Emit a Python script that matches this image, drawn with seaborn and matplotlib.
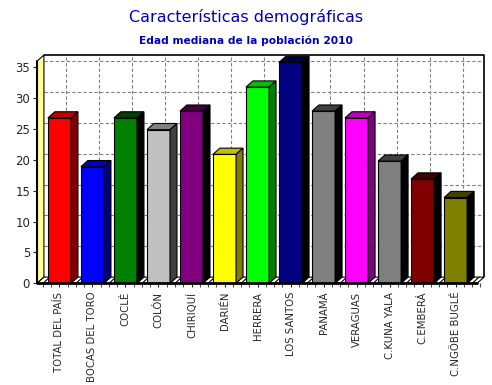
import matplotlib
matplotlib.use('Agg')
import matplotlib.pyplot as plt
import numpy as np
import pandas as pd
import seaborn as sns
from matplotlib.patches import Polygon

# data
provincias = ['TOTAL DEL PAÍS', 'BOCAS DEL TORO', 'COCLÉ', 'COLÓN', 'CHIRIQUÍ', 'DARIÉN',
              'HERRERA', 'LOS SANTOS', 'PANAMÁ', 'VERAGUAS', 'C.KUNA YALA', 'C.EMBERÁ',
              'C.NGÖBE BUGLÉ']
edad_mediana = [26.8, 18.9, 26.8, 24.9, 27.9, 20.9, 31.8, 35.8, 27.9, 26.8, 19.8, 16.9, 13.9]
colores = ['#FF0000', '#0000FF', '#008000', '#C0C0C0', '#800080', '#FFFF00', '#00FF00',
           '#000080', '#808080', '#FF00FF', '#808080', '#800000', '#808000']

df = pd.DataFrame({'provincia': provincias, 'edad': edad_mediana})

sns.set_style('white')
plt.rcParams['font.family'] = ['DejaVu Sans']

fig = plt.figure(figsize=(4.92, 3.85), dpi=100)
ax = fig.add_axes([37 / 492, 101.7 / 385, 447 / 492, 228.3 / 385])

# 3d depth in data units
dx, dy = 0.21, 1.0
x0, x1 = -0.68, 12.86
ytop = 37.0


def shade(c, amt):
    r, g, b = [int(c[i:i + 2], 16) for i in (1, 3, 5)]
    return '#%02X%02X%02X' % (max(r - amt, 0), max(g - amt, 0), max(b - amt, 0))


# back wall grid
for v in range(5, 40, 5):
    ax.plot([x0 + dx, x1], [v + dy, v + dy], color='#808080', ls=(0, (3, 2)), lw=0.8, zorder=1)
for i in range(len(provincias)):
    ax.plot([i + dx, i + dx], [dy, ytop], color='#808080', ls=(0, (3, 2)), lw=0.8, zorder=1)
ax.plot([x0 + dx, x1, x1], [ytop, ytop, dy], color='black', lw=1.2, zorder=1, clip_on=False)

# left yellow wall
ax.add_patch(Polygon([(x0, 0), (x0 + dx, dy), (x0 + dx, ytop), (x0, ytop - dy)],
                     closed=True, facecolor='#FFFF99', edgecolor='black', lw=0.8, zorder=1))
# floor
ax.add_patch(Polygon([(x0, 0), (x1 - dx, 0), (x1, dy), (x0 + dx, dy)],
                     closed=True, facecolor='white', edgecolor='black', lw=0.8, zorder=1))
for i in range(len(provincias) + 1):
    ax.plot([i - 0.5, i - 0.5 + dx], [0, dy], color='black', lw=0.8, zorder=1)

sns.barplot(data=df, x='provincia', y='edad', hue='provincia', palette=colores,
            legend=False, width=0.7, edgecolor='black', linewidth=0.8, saturation=1,
            ax=ax, zorder=3)

bars = [b for cont in ax.containers for b in cont]
for p, c in zip(bars, colores):
    xl = p.get_x()
    w = p.get_width()
    h = p.get_height()
    xr = xl + w
    top = [(xl, h), (xl + dx, h + dy), (xr + dx, h + dy), (xr, h)]
    side = [(xr, 0), (xr + dx, dy), (xr + dx, h + dy), (xr, h)]
    ax.add_patch(Polygon(top, closed=True, facecolor=shade(c, 64), edgecolor='black',
                         lw=0.8, zorder=3))
    ax.add_patch(Polygon(side, closed=True, facecolor=shade(c, 128), edgecolor='black',
                         lw=0.8, zorder=3))

ax.set_xlim(x0, x1)
ax.set_ylim(0, ytop)
for s in ax.spines.values():
    s.set_visible(False)
ax.plot([x0, x1 - dx], [0, 0], color='black', lw=2, zorder=5, clip_on=False)
ax.plot([x0, x0], [0, ytop - dy], color='black', lw=1.5, zorder=5, clip_on=False)

ax.set_yticks(range(0, 40, 5))
ax.tick_params(axis='y', labelsize=8.5, length=3, direction='out', left=True, pad=2)
ax.set_xticks(range(len(provincias)))
ax.set_xticklabels(provincias, rotation=90, fontsize=7.3)
ax.set_xticks(np.arange(-0.5, len(provincias), 0.25), minor=True)
ax.tick_params(axis='x', which='both', length=3, direction='out', bottom=True, pad=3)
ax.set_xlabel('')
ax.set_ylabel('')

fig.text(0.5, 1 - 17 / 385, 'Características demográficas', ha='center', va='center',
         fontsize=11.5, color='#0000C0')
fig.text(0.5, 1 - 41 / 385, 'Edad mediana de la población 2010', ha='center', va='center',
         fontsize=7.7, fontweight='bold', color='#0000C0')

fig.savefig('out.png', dpi=100, facecolor='white')
